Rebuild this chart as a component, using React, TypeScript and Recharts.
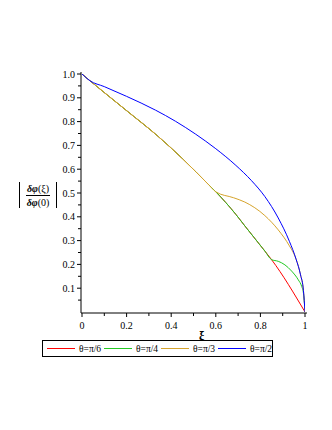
import { LineChart, Line, XAxis, YAxis } from "recharts";

// shared lower branch (all θ < π/2 follow it until they split)
const trunkXi = [0, 0.035, 0.1, 0.2, 0.34, 0.45, 0.57, 0.6, 0.69, 0.73, 0.82, 0.85];
const trunkVal = [1, 0.972, 0.922, 0.846, 0.739, 0.645, 0.533, 0.505, 0.41, 0.362, 0.256, 0.22];

const redXi = [1];
const redVal = [0];

const greenXi = [0.88, 0.91, 0.94, 0.97, 0.985, 0.993, 1];
const greenVal = [0.213, 0.198, 0.172, 0.135, 0.108, 0.079, 0.01];

const orangeXi = [0.68, 0.73, 0.82, 0.88, 0.93, 0.955, 0.98, 0.993, 1];
const orangeVal = [0.48, 0.462, 0.405, 0.345, 0.278, 0.234, 0.156, 0.09, 0];

const blueXi = [0, 0.035, 0.1, 0.2, 0.33, 0.42, 0.51, 0.6, 0.69, 0.76, 0.82, 0.88, 0.93, 0.96, 0.98, 0.993, 1];
const blueVal = [1, 0.972, 0.947, 0.906, 0.848, 0.801, 0.747, 0.686, 0.616, 0.552, 0.485, 0.395, 0.297, 0.222, 0.156, 0.09, 0];

const xTicks = [0, 0.1, 0.2, 0.3, 0.4, 0.5, 0.6, 0.7, 0.8, 0.9, 1];
const xTickLabels = ["0", "", "0.2", "", "0.4", "", "0.6", "", "0.8", "", "1"];
const yTicks = [0.05, 0.1, 0.15, 0.2, 0.25, 0.3, 0.35, 0.4, 0.45, 0.5, 0.55, 0.6, 0.65, 0.7, 0.75, 0.8, 0.85, 0.9, 0.95, 1];
const yTickLabels = ["", "0.1", "", "0.2", "", "0.3", "", "0.4", "", "0.5", "", "0.6", "", "0.7", "", "0.8", "", "0.9", "", "1.0"];

const seriesNames = ["θ=π/6", "θ=π/4", "θ=π/3", "θ=π/2"];
const seriesColors = ["#ff0000", "#22c922", "#d6a42c", "#0000ff"];

const pts = (xs: number[], ys: number[]) => xs.map((xi, i) => ({ xi, v: ys[i] }));
const trunkTo = (limit: number) =>
  pts(trunkXi, trunkVal).filter((p) => p.xi <= limit);

const redData = [...trunkTo(0.85), ...pts(redXi, redVal)];
const greenData = [...trunkTo(0.85), ...pts(greenXi, greenVal)];
const orangeData = [...trunkTo(0.6), ...pts(orangeXi, orangeVal)];
const blueData = pts(blueXi, blueVal);
const allData = [redData, greenData, orangeData, blueData];

const font = "Liberation Serif, DejaVu Serif, serif";
const txt = { fontFamily: font, fontWeight: 400 as const };

const XTick = (props: any) => {
  const { x, y, index } = props;
  const label = xTickLabels[index];
  return (
    <g>
      <line x1={x} x2={x} y1={y} y2={y + (label ? 4 : 3)} stroke="#000" />
      {label && (
        <text x={x} y={y + 16} textAnchor="middle" fontSize={10} style={txt} fill="#000">
          {label}
        </text>
      )}
    </g>
  );
};

const YTick = (props: any) => {
  const { x, y, index } = props;
  const label = yTickLabels[index];
  return (
    <g>
      <line x1={x - (label ? 4 : 3)} x2={x} y1={y} y2={y} stroke="#000" />
      {label && (
        <text x={x - 6} y={y + 3.5} textAnchor="end" fontSize={10} style={txt} fill="#000">
          {label}
        </text>
      )}
    </g>
  );
};

export default function App() {
  return (
    <div
      style={{
        position: "absolute",
        left: 0,
        top: 0,
        width: 332,
        height: 430,
        background: "#fff",
        fontFamily: font,
      }}
    >
      <LineChart width={332} height={430} margin={{ top: 72, right: 25, bottom: 97, left: 0 }}>
        <XAxis
          dataKey="xi"
          type="number"
          domain={[0, 1]}
          ticks={xTicks}
          interval={0}
          padding={{ left: 1, right: 2 }}
          height={20}
          tickSize={0}
          tickMargin={0}
          tickLine={false}
          tick={<XTick />}
          axisLine={{ stroke: "#000" }}
          allowDataOverflow
        />
        <XAxis
          xAxisId="top"
          orientation="top"
          type="number"
          domain={[0, 1]}
          height={0}
          tick={false}
          tickLine={false}
          axisLine={{ stroke: "#000" }}
        />
        <YAxis
          type="number"
          domain={[0, 1]}
          ticks={yTicks}
          interval={0}
          padding={{ top: 2, bottom: 1 }}
          width={81}
          tickSize={0}
          tickMargin={0}
          tickLine={false}
          tick={<YTick />}
          axisLine={{ stroke: "#000" }}
          allowDataOverflow
        />
        <YAxis
          yAxisId="right"
          orientation="right"
          type="number"
          domain={[0, 1]}
          width={0}
          tick={false}
          tickLine={false}
          axisLine={{ stroke: "#000" }}
        />
        {allData.map((d, i) => (
          <Line
            key={seriesNames[i]}
            data={d}
            dataKey="v"
            type="monotone"
            stroke={seriesColors[i]}
            strokeWidth={1}
            dot={false}
            activeDot={false}
            isAnimationActive={false}
          />
        ))}
      </LineChart>

      {/* y label: |δφ(ξ) / δφ(0)| */}
      <div
        style={{
          position: "absolute",
          left: 19,
          top: 182,
          width: 36,
          height: 26,
          borderLeft: "1px solid #000",
          borderRight: "1px solid #000",
          display: "flex",
          flexDirection: "column",
          alignItems: "center",
          justifyContent: "center",
          fontSize: 10,
          lineHeight: "11px",
        }}
      >
        <div style={{ borderBottom: "1px solid #000", padding: "0 1px 1px" }}>
          <b><i>δφ</i></b>(ξ)
        </div>
        <div style={{ paddingTop: 1 }}>
          <b><i>δφ</i></b>(0)
        </div>
      </div>

      <div
        style={{
          position: "absolute",
          left: 199,
          top: 329,
          fontSize: 12,
          fontWeight: "bold",
        }}
      >
        ξ
      </div>

      <svg
        width={231}
        height={17}
        style={{ position: "absolute", left: 42, top: 340 }}
      >
        <rect x={0.5} y={0.5} width={230} height={16} fill="#fff" stroke="#000" />
        {seriesNames.map((name, i) => (
          <g key={name}>
            <line
              x1={5 + i * 57}
              x2={33 + i * 57}
              y1={8.5}
              y2={8.5}
              stroke={seriesColors[i]}
            />
            <text x={37 + i * 57} y={12} fontSize={9.5} style={txt} fill="#000">
              {name}
            </text>
          </g>
        ))}
      </svg>
    </div>
  );
}
